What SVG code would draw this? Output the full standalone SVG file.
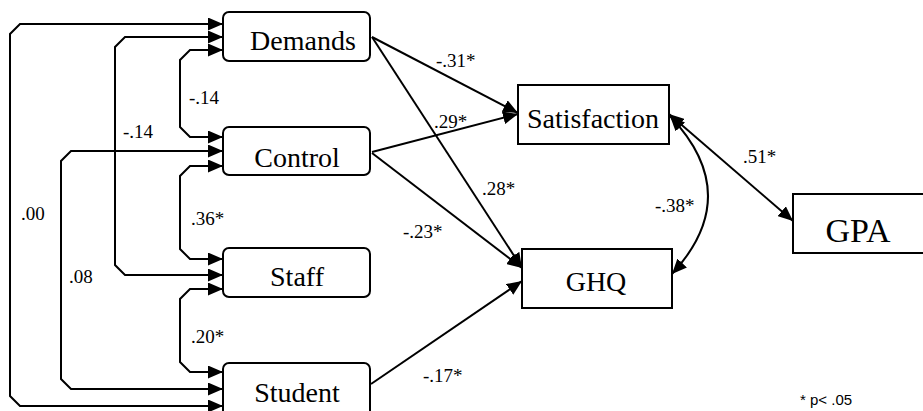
<svg xmlns="http://www.w3.org/2000/svg" width="923" height="411" viewBox="0 0 923 411">
<style>
.box{fill:#fff;stroke:#000;stroke-width:2}
.name{font-family:'Liberation Serif','Times New Roman',serif;font-size:28px;fill:#000;text-anchor:middle}
.lbl{font-family:'Liberation Serif','Times New Roman',serif;font-size:19px;fill:#000}
.note{font-family:'Liberation Sans',Arial,sans-serif;font-size:15px;fill:#000}
.c{fill:none;stroke:#000;stroke-width:2}
.both{marker-start:url(#ah);marker-end:url(#ah)}
.one{marker-end:url(#ah)}
</style>
<defs>
<marker id="ah" markerUnits="userSpaceOnUse" markerWidth="15" markerHeight="13" refX="15" refY="6.5" orient="auto-start-reverse" viewBox="0 0 15 13">
<path d="M0,0 L15,6.5 L0,13 z" fill="#000"/>
</marker>
</defs>
<rect width="923" height="411" fill="#fff"/>
<g id="connectors">
<path class="c both" d="M223,24 L20,24 L10,34 L10,396 L20,406 L223,406"/>
<path class="c both" d="M223,37 L125,37 L115,47 L115,265 L125,275 L223,275"/>
<path class="c both" d="M223,50 L190,50 L180,60 L180,127 L190,137 L223,137"/>
<path class="c both" d="M223,151 L71,151 L61,161 L61,379 L71,389 L223,389"/>
<path class="c both" d="M223,166 L190,166 L180,176 L180,249 L190,259 L223,259"/>
<path class="c both" d="M223,289 L190,289 L180,299 L180,362 L190,372 L223,372"/>
<path class="c one" d="M372,37 L518,113"/>
<path class="c one" d="M372,152 L518,114"/>
<path class="c one" d="M372,37 L522,268"/>
<path class="c one" d="M372,153 L522,268"/>
<path class="c one" d="M371,384 L522,281"/>
<path class="c both" d="M669,114 L793,221"/>
<path class="c both" d="M670,116 Q745,195 672,274"/>
</g>
<g id="labels">
<text class="lbl" x="189" y="104">-.14</text>
<text class="lbl" x="123" y="138">-.14</text>
<text class="lbl" x="21" y="220">.00</text>
<text class="lbl" x="69" y="283">.08</text>
<text class="lbl" x="191" y="225">.36*</text>
<text class="lbl" x="191" y="343">.20*</text>
<text class="lbl" x="436" y="67">-.31*</text>
<text class="lbl" x="434" y="128">.29*</text>
<text class="lbl" x="482" y="195">.28*</text>
<text class="lbl" x="403" y="238">-.23*</text>
<text class="lbl" x="423" y="382">-.17*</text>
<text class="lbl" x="743" y="163">.51*</text>
<text class="lbl" x="655" y="212">-.38*</text>
<text class="note" x="800" y="405">* p&lt; .05</text>
</g>
<g id="demands">
<rect class="box" x="223" y="12" width="147" height="49" rx="6"/>
<text class="name" x="303" y="50">Demands</text>
</g>
<g id="control">
<rect class="box" x="223" y="127" width="147" height="48" rx="6"/>
<text class="name" x="297" y="167">Control</text>
</g>
<g id="staff">
<rect class="box" x="223" y="248" width="147" height="49" rx="6"/>
<text class="name" x="297" y="286">Staff</text>
</g>
<g id="student">
<rect class="box" x="223" y="363" width="147" height="56" rx="6"/>
<text class="name" x="297" y="402">Student</text>
</g>
<g id="satisfaction">
<rect class="box" x="518" y="85" width="151" height="59"/>
<text class="name" x="593" y="128">Satisfaction</text>
</g>
<g id="ghq">
<rect class="box" x="522" y="249" width="150" height="59"/>
<text class="name" x="596" y="291">GHQ</text>
</g>
<g id="gpa">
<rect class="box" x="793" y="194" width="140" height="59"/>
<text class="name" x="858" y="242" style="font-size:34px">GPA</text>
</g>
</svg>
